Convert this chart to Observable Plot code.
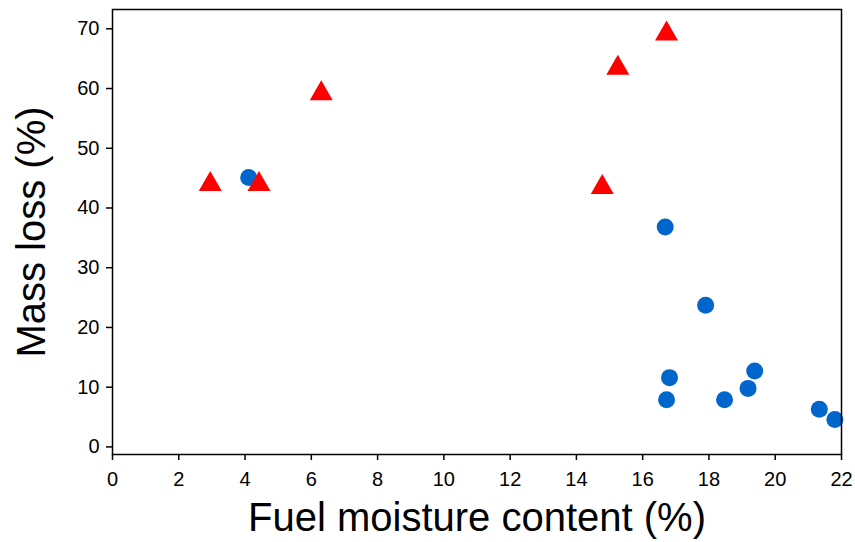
<!DOCTYPE html>
<html>
<head>
<meta charset="utf-8">
<script src="https://cdn.jsdelivr.net/npm/d3@7"></script>
<script src="https://cdn.jsdelivr.net/npm/@observablehq/plot@0.6"></script>
<style>
  html, body { margin: 0; padding: 0; background: #fff; }
  #chart svg { display: block; }
</style>
</head>
<body>
<div id="chart"></div>
<script>
// Circles (blue)
const moistureCircles = [4.11, 16.68, 17.90, 16.81, 16.72, 18.47, 19.18, 19.38, 21.33, 21.80];
const massLossCircles = [45.1, 36.8, 23.7, 11.6, 7.9, 7.9, 9.8, 12.7, 6.3, 4.6];
// Triangles (red)
const moistureTriangles = [2.95, 4.42, 6.30, 14.78, 15.25, 16.72];
const massLossTriangles = [44.5, 44.5, 59.7, 44.0, 64.0, 69.7];

const xTicks = [0, 2, 4, 6, 8, 10, 12, 14, 16, 18, 20, 22];
const yTicks = [0, 10, 20, 30, 40, 50, 60, 70];
const xTitle = "Fuel moisture content (%)";
const yTitle = "Mass loss (%)";

const circles = moistureCircles.map((x, i) => ({x, y: massLossCircles[i]}));
const triangles = moistureTriangles.map((x, i) => ({x, y: massLossTriangles[i]}));

// Triangle centred on its bounding box (matplotlib-style "^")
const triangleUp = {
  draw(context, size) {
    const r = Math.sqrt(size / Math.PI);
    const hw = r * 1.353, hh = r * 1.176;
    context.moveTo(0, -hh);
    context.lineTo(hw, hh);
    context.lineTo(-hw, hh);
    context.closePath();
  }
};

const chart = Plot.plot({
  width: 855,
  height: 542,
  marginLeft: 112,
  marginRight: 14,
  marginTop: 9,
  marginBottom: 88,
  style: {fontFamily: "'Liberation Sans', Arial, sans-serif", fontSize: "20px", color: "black", background: "white"},
  x: {domain: [0, 22]},
  y: {domain: [-1.27, 73.23]},
  marks: [
    Plot.axisX({ticks: xTicks, tickSize: 6, tickPadding: 11, fontSize: 20, label: null, strokeWidth: 1.5}),
    Plot.axisY({ticks: yTicks, tickSize: 6, tickPadding: 7, fontSize: 20, label: null, strokeWidth: 1.5}),
    Plot.dot(circles, {x: "x", y: "y", r: 8.5, symbol: "circle", fill: "#0066cc", stroke: "none"}),
    Plot.dot(triangles, {x: "x", y: "y", r: 8.5, symbol: triangleUp, fill: "#ff0000", stroke: "none"}),
    Plot.frame({stroke: "black", strokeWidth: 1.5}),
    Plot.text([xTitle], {frameAnchor: "bottom", dy: 64, fontSize: 40, textAnchor: "middle", lineAnchor: "middle", fill: "black"}),
    Plot.text([yTitle], {frameAnchor: "left", dx: -80, rotate: -90, fontSize: 40, textAnchor: "middle", lineAnchor: "middle", fill: "black"})
  ]
});
document.getElementById("chart").appendChild(chart);
</script>
</body>
</html>
